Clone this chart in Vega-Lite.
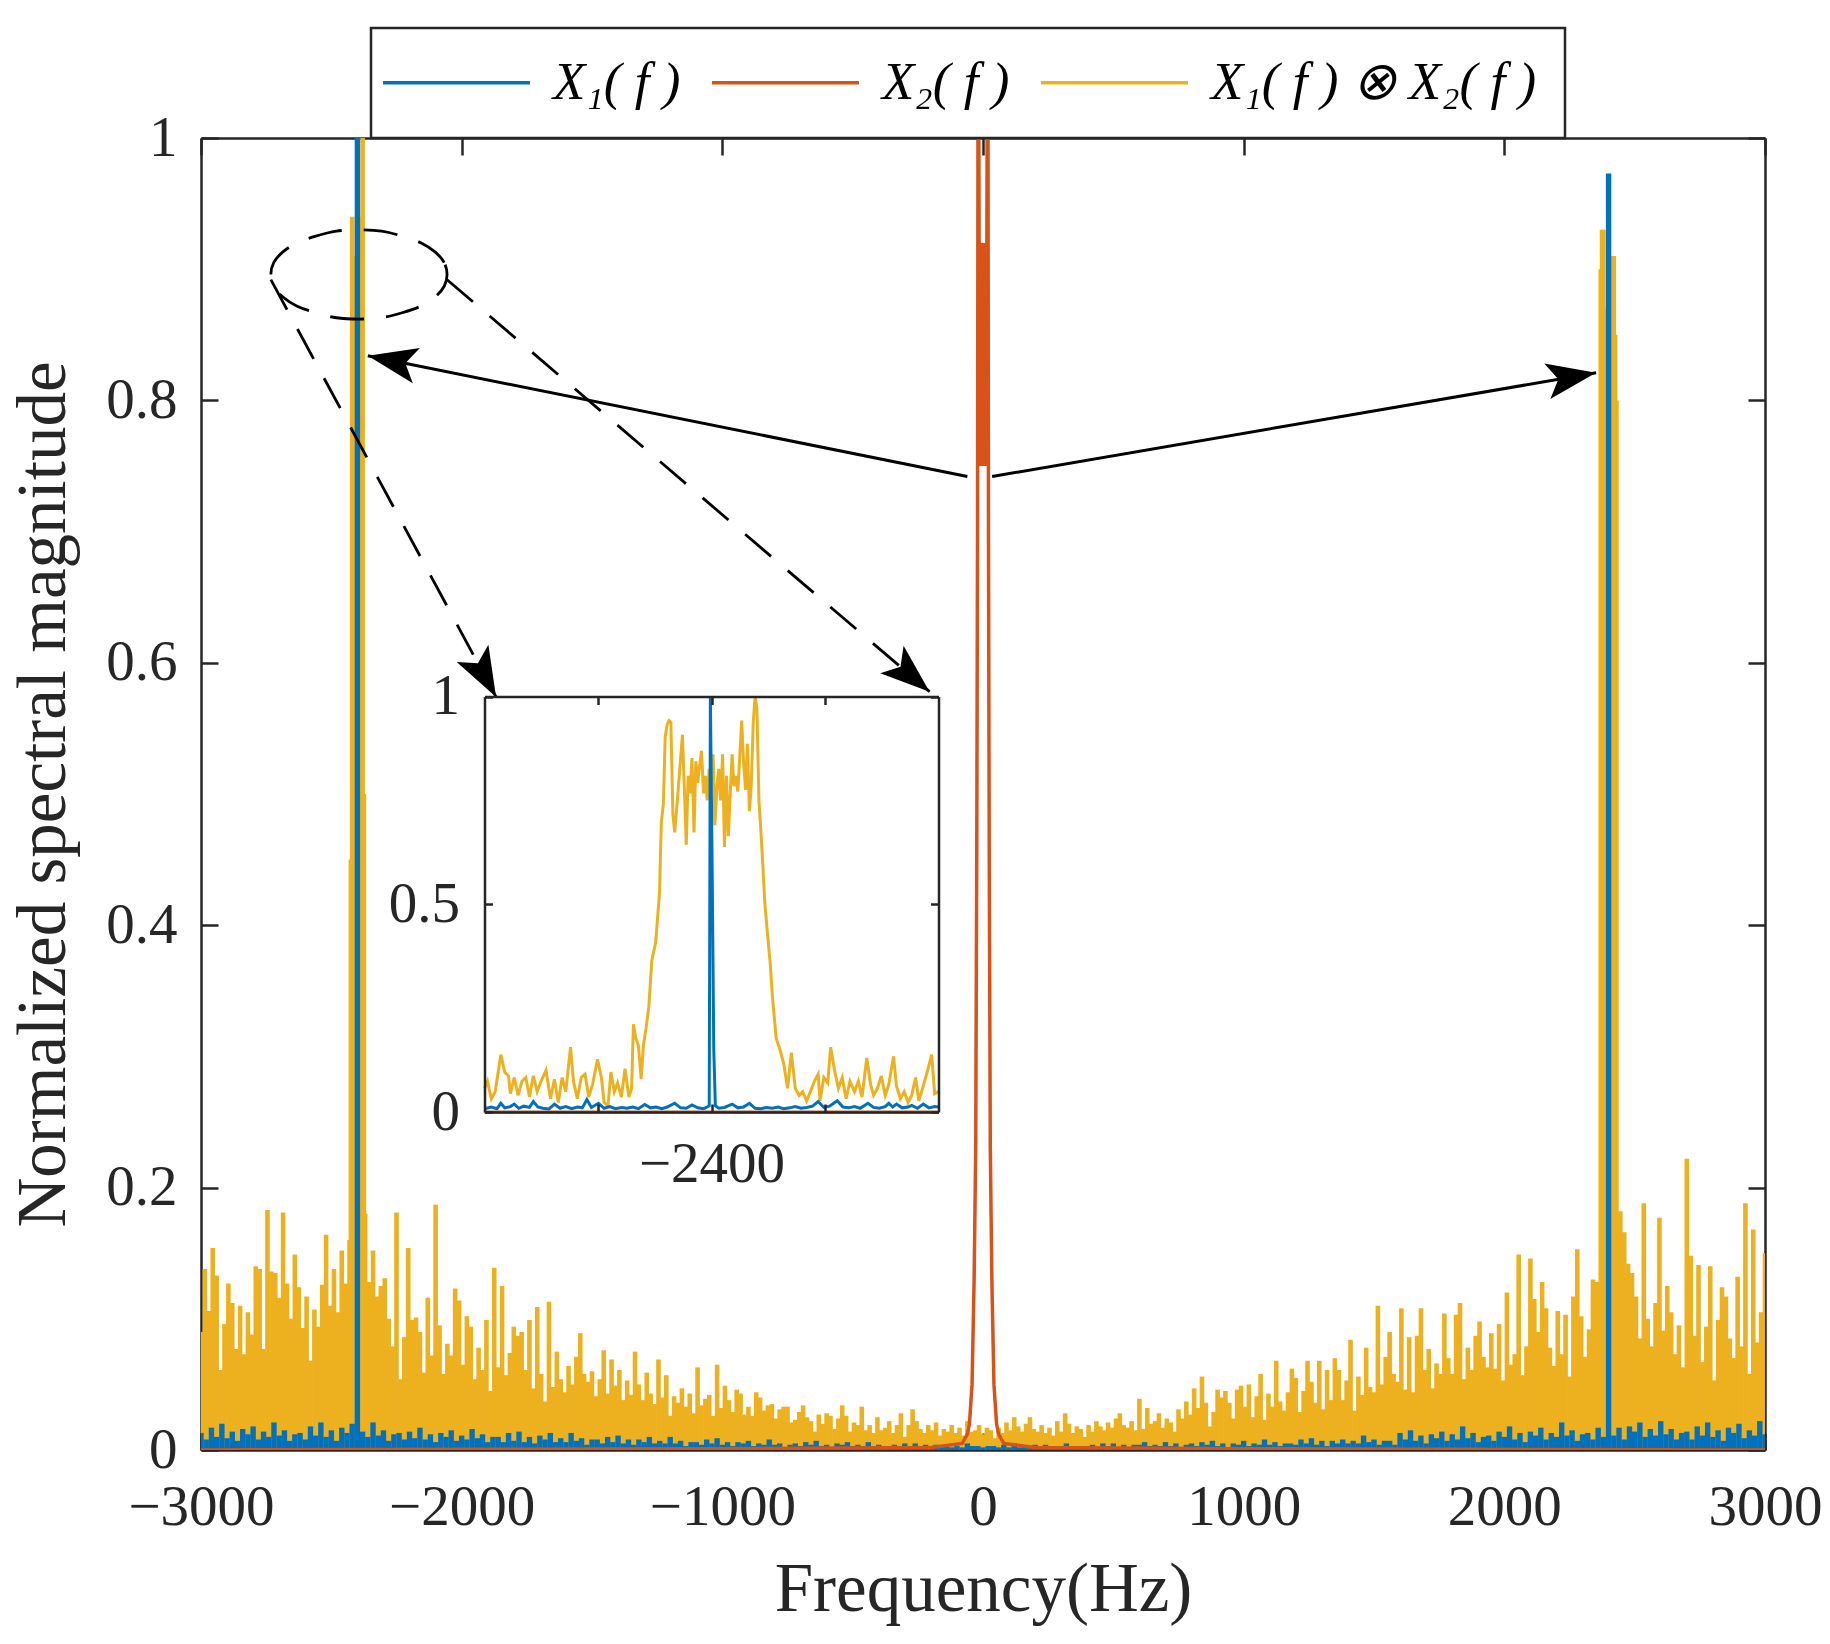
{
  "$schema": "https://vega.github.io/schema/vega-lite/v6.json",
  "description": "Spectra of X1(f), X2(f) and their convolution, with a zoomed inset around -2400 Hz",
  "width": 1564,
  "height": 1312,
  "autosize": {"type": "none"},
  "padding": {"left": 201, "top": 138, "right": 65, "bottom": 194},
  "background": "white",
  "datasets": {
    "x1x2": [
      {"f":-3000,"m":0.090},{"f":-2985,"m":0.138},{"f":-2970,"m":0.106},{"f":-2955,"m":0.154},{"f":-2940,"m":0.133},{"f":-2925,"m":0.061},{"f":-2910,"m":0.096},{"f":-2895,"m":0.127},{"f":-2880,"m":0.112},{"f":-2865,"m":0.077},
      {"f":-2850,"m":0.110},{"f":-2835,"m":0.073},{"f":-2820,"m":0.105},{"f":-2805,"m":0.088},{"f":-2790,"m":0.140},{"f":-2775,"m":0.138},{"f":-2760,"m":0.077},{"f":-2745,"m":0.183},{"f":-2730,"m":0.136},{"f":-2715,"m":0.135},
      {"f":-2700,"m":0.116},{"f":-2685,"m":0.181},{"f":-2670,"m":0.127},{"f":-2655,"m":0.100},{"f":-2640,"m":0.149},{"f":-2625,"m":0.124},{"f":-2610,"m":0.093},{"f":-2595,"m":0.117},{"f":-2580,"m":0.068},{"f":-2565,"m":0.107},
      {"f":-2550,"m":0.094},{"f":-2535,"m":0.126},{"f":-2520,"m":0.164},{"f":-2505,"m":0.110},{"f":-2490,"m":0.138},{"f":-2475,"m":0.105},{"f":-2460,"m":0.152},{"f":-2445,"m":0.127},{"f":-2430,"m":0.160},{"f":-2425,"m":0.450},
      {"f":-2420,"m":0.940},{"f":-2415,"m":0.910},{"f":-2410,"m":0.850},{"f":-2405,"m":0.870},{"f":-2400,"m":0.860},{"f":-2395,"m":0.860},{"f":-2390,"m":0.860},{"f":-2385,"m":0.940},{"f":-2380,"m":1.000},{"f":-2375,"m":0.500},
      {"f":-2370,"m":0.180},{"f":-2355,"m":0.128},{"f":-2340,"m":0.152},{"f":-2325,"m":0.117},{"f":-2310,"m":0.125},{"f":-2295,"m":0.131},{"f":-2280,"m":0.100},{"f":-2265,"m":0.079},
      {"f":-2250,"m":0.181},{"f":-2235,"m":0.054},{"f":-2220,"m":0.086},{"f":-2205,"m":0.154},{"f":-2190,"m":0.099},{"f":-2175,"m":0.101},{"f":-2160,"m":0.090},{"f":-2145,"m":0.059},{"f":-2130,"m":0.116},{"f":-2115,"m":0.072},
      {"f":-2100,"m":0.187},{"f":-2085,"m":0.095},{"f":-2070,"m":0.058},{"f":-2055,"m":0.081},{"f":-2040,"m":0.072},{"f":-2025,"m":0.123},{"f":-2010,"m":0.114},{"f":-1995,"m":0.065},{"f":-1980,"m":0.102},{"f":-1965,"m":0.094},
      {"f":-1950,"m":0.054},{"f":-1935,"m":0.078},{"f":-1920,"m":0.061},{"f":-1905,"m":0.099},{"f":-1890,"m":0.045},{"f":-1875,"m":0.139},{"f":-1860,"m":0.063},{"f":-1845,"m":0.125},{"f":-1830,"m":0.057},{"f":-1815,"m":0.074},
      {"f":-1800,"m":0.094},{"f":-1785,"m":0.087},{"f":-1770,"m":0.090},{"f":-1755,"m":0.061},{"f":-1740,"m":0.099},{"f":-1725,"m":0.047},{"f":-1710,"m":0.109},{"f":-1695,"m":0.058},{"f":-1680,"m":0.037},{"f":-1665,"m":0.113},
      {"f":-1650,"m":0.048},{"f":-1635,"m":0.075},{"f":-1620,"m":0.054},{"f":-1605,"m":0.044},{"f":-1590,"m":0.064},{"f":-1575,"m":0.050},{"f":-1560,"m":0.071},{"f":-1545,"m":0.089},{"f":-1530,"m":0.058},{"f":-1515,"m":0.052},
      {"f":-1500,"m":0.060},{"f":-1485,"m":0.041},{"f":-1470,"m":0.054},{"f":-1455,"m":0.076},{"f":-1440,"m":0.043},{"f":-1425,"m":0.069},{"f":-1410,"m":0.049},{"f":-1395,"m":0.061},{"f":-1380,"m":0.038},{"f":-1365,"m":0.053},
      {"f":-1350,"m":0.042},{"f":-1335,"m":0.075},{"f":-1320,"m":0.050},{"f":-1305,"m":0.038},{"f":-1290,"m":0.059},{"f":-1275,"m":0.043},{"f":-1260,"m":0.035},{"f":-1245,"m":0.069},{"f":-1230,"m":0.040},{"f":-1215,"m":0.057},
      {"f":-1200,"m":0.026},{"f":-1185,"m":0.041},{"f":-1170,"m":0.036},{"f":-1155,"m":0.047},{"f":-1140,"m":0.033},{"f":-1125,"m":0.043},{"f":-1110,"m":0.028},{"f":-1095,"m":0.063},{"f":-1080,"m":0.034},{"f":-1065,"m":0.039},
      {"f":-1050,"m":0.042},{"f":-1035,"m":0.026},{"f":-1020,"m":0.065},{"f":-1005,"m":0.032},{"f":-990,"m":0.049},{"f":-975,"m":0.038},{"f":-960,"m":0.029},{"f":-945,"m":0.046},{"f":-930,"m":0.043},{"f":-915,"m":0.027},
      {"f":-900,"m":0.033},{"f":-885,"m":0.026},{"f":-870,"m":0.044},{"f":-855,"m":0.040},{"f":-840,"m":0.030},{"f":-825,"m":0.034},{"f":-810,"m":0.035},{"f":-795,"m":0.024},{"f":-780,"m":0.031},{"f":-765,"m":0.033},
      {"f":-750,"m":0.033},{"f":-735,"m":0.021},{"f":-720,"m":0.023},{"f":-705,"m":0.029},{"f":-690,"m":0.034},{"f":-675,"m":0.025},{"f":-660,"m":0.022},{"f":-645,"m":0.014},{"f":-630,"m":0.027},{"f":-615,"m":0.020},
      {"f":-600,"m":0.028},{"f":-585,"m":0.026},{"f":-570,"m":0.016},{"f":-555,"m":0.024},{"f":-540,"m":0.034},{"f":-525,"m":0.026},{"f":-510,"m":0.014},{"f":-495,"m":0.021},{"f":-480,"m":0.019},{"f":-465,"m":0.033},
      {"f":-450,"m":0.015},{"f":-435,"m":0.019},{"f":-420,"m":0.013},{"f":-405,"m":0.025},{"f":-390,"m":0.015},{"f":-375,"m":0.017},{"f":-360,"m":0.022},{"f":-345,"m":0.013},{"f":-330,"m":0.019},{"f":-315,"m":0.028},
      {"f":-300,"m":0.010},{"f":-285,"m":0.019},{"f":-270,"m":0.031},{"f":-255,"m":0.022},{"f":-240,"m":0.016},{"f":-225,"m":0.013},{"f":-210,"m":0.019},{"f":-195,"m":0.015},{"f":-180,"m":0.021},{"f":-165,"m":0.011},
      {"f":-150,"m":0.016},{"f":-135,"m":0.014},{"f":-120,"m":0.019},{"f":-105,"m":0.013},{"f":-90,"m":0.017},{"f":-75,"m":0.011},{"f":-60,"m":0.022},{"f":-45,"m":0.014},{"f":-30,"m":0.015},{"f":-15,"m":0.019},
      {"f":0,"m":0.012},{"f":15,"m":0.017},{"f":30,"m":0.015},{"f":45,"m":0.009},{"f":60,"m":0.017},{"f":75,"m":0.013},{"f":90,"m":0.021},{"f":105,"m":0.015},{"f":120,"m":0.025},{"f":135,"m":0.018},
      {"f":150,"m":0.014},{"f":165,"m":0.020},{"f":180,"m":0.025},{"f":195,"m":0.016},{"f":210,"m":0.014},{"f":225,"m":0.019},{"f":240,"m":0.013},{"f":255,"m":0.017},{"f":270,"m":0.011},{"f":285,"m":0.022},
      {"f":300,"m":0.014},{"f":315,"m":0.028},{"f":330,"m":0.020},{"f":345,"m":0.013},{"f":360,"m":0.018},{"f":375,"m":0.016},{"f":390,"m":0.010},{"f":405,"m":0.019},{"f":420,"m":0.014},{"f":435,"m":0.022},
      {"f":450,"m":0.018},{"f":465,"m":0.015},{"f":480,"m":0.021},{"f":495,"m":0.017},{"f":510,"m":0.024},{"f":525,"m":0.028},{"f":540,"m":0.019},{"f":555,"m":0.017},{"f":570,"m":0.022},{"f":585,"m":0.015},
      {"f":600,"m":0.039},{"f":615,"m":0.016},{"f":630,"m":0.032},{"f":645,"m":0.020},{"f":660,"m":0.022},{"f":675,"m":0.028},{"f":690,"m":0.017},{"f":705,"m":0.024},{"f":720,"m":0.021},{"f":735,"m":0.014},
      {"f":750,"m":0.031},{"f":765,"m":0.024},{"f":780,"m":0.037},{"f":795,"m":0.027},{"f":810,"m":0.047},{"f":825,"m":0.032},{"f":840,"m":0.056},{"f":855,"m":0.036},{"f":870,"m":0.018},{"f":885,"m":0.029},
      {"f":900,"m":0.046},{"f":915,"m":0.040},{"f":930,"m":0.045},{"f":945,"m":0.036},{"f":960,"m":0.024},{"f":975,"m":0.046},{"f":990,"m":0.049},{"f":1005,"m":0.033},{"f":1020,"m":0.050},{"f":1035,"m":0.025},
      {"f":1050,"m":0.041},{"f":1065,"m":0.058},{"f":1080,"m":0.023},{"f":1095,"m":0.043},{"f":1110,"m":0.033},{"f":1125,"m":0.068},{"f":1140,"m":0.037},{"f":1155,"m":0.030},{"f":1170,"m":0.044},{"f":1185,"m":0.062},
      {"f":1200,"m":0.055},{"f":1215,"m":0.029},{"f":1230,"m":0.045},{"f":1245,"m":0.068},{"f":1260,"m":0.052},{"f":1275,"m":0.036},{"f":1290,"m":0.068},{"f":1305,"m":0.031},{"f":1320,"m":0.061},{"f":1335,"m":0.038},
      {"f":1350,"m":0.070},{"f":1365,"m":0.061},{"f":1380,"m":0.038},{"f":1395,"m":0.053},{"f":1410,"m":0.084},{"f":1425,"m":0.030},{"f":1440,"m":0.056},{"f":1455,"m":0.042},{"f":1470,"m":0.078},{"f":1485,"m":0.048},
      {"f":1500,"m":0.044},{"f":1515,"m":0.110},{"f":1530,"m":0.050},{"f":1545,"m":0.071},{"f":1560,"m":0.090},{"f":1575,"m":0.058},{"f":1590,"m":0.052},{"f":1605,"m":0.108},{"f":1620,"m":0.046},{"f":1635,"m":0.086},
      {"f":1650,"m":0.044},{"f":1665,"m":0.087},{"f":1680,"m":0.108},{"f":1695,"m":0.061},{"f":1710,"m":0.077},{"f":1725,"m":0.047},{"f":1740,"m":0.066},{"f":1755,"m":0.058},{"f":1770,"m":0.104},{"f":1785,"m":0.070},
      {"f":1800,"m":0.058},{"f":1815,"m":0.103},{"f":1830,"m":0.112},{"f":1845,"m":0.054},{"f":1860,"m":0.078},{"f":1875,"m":0.061},{"f":1890,"m":0.087},{"f":1905,"m":0.098},{"f":1920,"m":0.071},{"f":1935,"m":0.063},
      {"f":1950,"m":0.089},{"f":1965,"m":0.062},{"f":1980,"m":0.096},{"f":1995,"m":0.053},{"f":2010,"m":0.120},{"f":2025,"m":0.065},{"f":2040,"m":0.073},{"f":2055,"m":0.149},{"f":2070,"m":0.057},{"f":2085,"m":0.079},
      {"f":2100,"m":0.146},{"f":2115,"m":0.115},{"f":2130,"m":0.090},{"f":2145,"m":0.128},{"f":2160,"m":0.108},{"f":2175,"m":0.078},{"f":2190,"m":0.064},{"f":2205,"m":0.106},{"f":2220,"m":0.073},{"f":2235,"m":0.103},
      {"f":2250,"m":0.056},{"f":2265,"m":0.117},{"f":2280,"m":0.153},{"f":2295,"m":0.102},{"f":2310,"m":0.071},{"f":2325,"m":0.092},{"f":2340,"m":0.130},{"f":2355,"m":0.128},{"f":2370,"m":0.900},{"f":2375,"m":0.930},
      {"f":2380,"m":0.930},{"f":2385,"m":0.870},{"f":2390,"m":0.850},{"f":2395,"m":0.820},{"f":2400,"m":0.830},{"f":2405,"m":0.890},{"f":2410,"m":0.900},{"f":2415,"m":0.910},{"f":2420,"m":0.910},{"f":2425,"m":0.850},
      {"f":2430,"m":0.800},{"f":2445,"m":0.182},{"f":2460,"m":0.166},{"f":2475,"m":0.142},{"f":2490,"m":0.135},{"f":2505,"m":0.117},{"f":2520,"m":0.085},{"f":2535,"m":0.188},
      {"f":2550,"m":0.100},{"f":2565,"m":0.079},{"f":2580,"m":0.112},{"f":2595,"m":0.177},{"f":2610,"m":0.091},{"f":2625,"m":0.125},{"f":2640,"m":0.105},{"f":2655,"m":0.073},{"f":2670,"m":0.095},{"f":2685,"m":0.063},
      {"f":2700,"m":0.222},{"f":2715,"m":0.148},{"f":2730,"m":0.087},{"f":2745,"m":0.141},{"f":2760,"m":0.067},{"f":2775,"m":0.094},{"f":2790,"m":0.140},{"f":2805,"m":0.053},{"f":2820,"m":0.099},{"f":2835,"m":0.124},
      {"f":2850,"m":0.117},{"f":2865,"m":0.085},{"f":2880,"m":0.070},{"f":2895,"m":0.132},{"f":2910,"m":0.079},{"f":2925,"m":0.188},{"f":2940,"m":0.058},{"f":2955,"m":0.168},{"f":2970,"m":0.082},{"f":2985,"m":0.105},
      {"f":3000,"m":0.150}
    ],
    "x1": [
      {"f":-3000,"m":0.013},{"f":-2980,"m":0.008},{"f":-2960,"m":0.017},{"f":-2940,"m":0.010},{"f":-2920,"m":0.020},{"f":-2900,"m":0.009},{"f":-2880,"m":0.014},{"f":-2860,"m":0.007},{"f":-2840,"m":0.016},{"f":-2820,"m":0.012},
      {"f":-2800,"m":0.018},{"f":-2780,"m":0.008},{"f":-2760,"m":0.014},{"f":-2740,"m":0.010},{"f":-2720,"m":0.021},{"f":-2700,"m":0.011},{"f":-2680,"m":0.015},{"f":-2660,"m":0.007},{"f":-2640,"m":0.012},{"f":-2620,"m":0.013},
      {"f":-2600,"m":0.008},{"f":-2580,"m":0.018},{"f":-2560,"m":0.011},{"f":-2540,"m":0.021},{"f":-2520,"m":0.010},{"f":-2500,"m":0.015},{"f":-2480,"m":0.007},{"f":-2460,"m":0.017},{"f":-2440,"m":0.013},{"f":-2420,"m":0.020},
      {"f":-2400,"m":1.000},{"f":-2380,"m":0.014},{"f":-2360,"m":0.010},{"f":-2340,"m":0.021},{"f":-2320,"m":0.011},{"f":-2300,"m":0.015},{"f":-2280,"m":0.007},{"f":-2260,"m":0.012},{"f":-2240,"m":0.013},{"f":-2220,"m":0.008},
      {"f":-2200,"m":0.014},{"f":-2180,"m":0.009},{"f":-2160,"m":0.017},{"f":-2140,"m":0.008},{"f":-2120,"m":0.012},{"f":-2100,"m":0.006},{"f":-2080,"m":0.013},{"f":-2060,"m":0.010},{"f":-2040,"m":0.015},{"f":-2020,"m":0.007},
      {"f":-2000,"m":0.011},{"f":-1980,"m":0.008},{"f":-1960,"m":0.016},{"f":-1940,"m":0.009},{"f":-1920,"m":0.012},{"f":-1900,"m":0.006},{"f":-1880,"m":0.010},{"f":-1860,"m":0.010},{"f":-1840,"m":0.006},{"f":-1820,"m":0.013},
      {"f":-1800,"m":0.007},{"f":-1780,"m":0.014},{"f":-1760,"m":0.006},{"f":-1740,"m":0.010},{"f":-1720,"m":0.005},{"f":-1700,"m":0.011},{"f":-1680,"m":0.008},{"f":-1660,"m":0.013},{"f":-1640,"m":0.006},{"f":-1620,"m":0.009},
      {"f":-1600,"m":0.006},{"f":-1580,"m":0.013},{"f":-1560,"m":0.007},{"f":-1540,"m":0.009},{"f":-1520,"m":0.004},{"f":-1500,"m":0.008},{"f":-1480,"m":0.008},{"f":-1460,"m":0.005},{"f":-1440,"m":0.010},{"f":-1420,"m":0.006},
      {"f":-1400,"m":0.011},{"f":-1380,"m":0.005},{"f":-1360,"m":0.008},{"f":-1340,"m":0.004},{"f":-1320,"m":0.008},{"f":-1300,"m":0.006},{"f":-1280,"m":0.010},{"f":-1260,"m":0.005},{"f":-1240,"m":0.007},{"f":-1220,"m":0.005},
      {"f":-1200,"m":0.010},{"f":-1180,"m":0.005},{"f":-1160,"m":0.007},{"f":-1140,"m":0.003},{"f":-1120,"m":0.006},{"f":-1100,"m":0.006},{"f":-1080,"m":0.004},{"f":-1060,"m":0.008},{"f":-1040,"m":0.005},{"f":-1020,"m":0.009},
      {"f":-1000,"m":0.004},{"f":-980,"m":0.006},{"f":-960,"m":0.003},{"f":-940,"m":0.006},{"f":-920,"m":0.005},{"f":-900,"m":0.007},{"f":-880,"m":0.003},{"f":-860,"m":0.005},{"f":-840,"m":0.004},{"f":-820,"m":0.008},
      {"f":-800,"m":0.004},{"f":-780,"m":0.005},{"f":-760,"m":0.002},{"f":-740,"m":0.004},{"f":-720,"m":0.005},{"f":-700,"m":0.003},{"f":-680,"m":0.006},{"f":-660,"m":0.004},{"f":-640,"m":0.007},{"f":-620,"m":0.003},
      {"f":-600,"m":0.004},{"f":-580,"m":0.002},{"f":-560,"m":0.005},{"f":-540,"m":0.004},{"f":-520,"m":0.006},{"f":-500,"m":0.003},{"f":-480,"m":0.004},{"f":-460,"m":0.003},{"f":-440,"m":0.006},{"f":-420,"m":0.003},
      {"f":-400,"m":0.004},{"f":-380,"m":0.002},{"f":-360,"m":0.003},{"f":-340,"m":0.004},{"f":-320,"m":0.002},{"f":-300,"m":0.005},{"f":-280,"m":0.003},{"f":-260,"m":0.005},{"f":-240,"m":0.002},{"f":-220,"m":0.004},
      {"f":-200,"m":0.002},{"f":-180,"m":0.004},{"f":-160,"m":0.003},{"f":-140,"m":0.004},{"f":-120,"m":0.002},{"f":-100,"m":0.003},{"f":-80,"m":0.002},{"f":-60,"m":0.005},{"f":-40,"m":0.003},{"f":-20,"m":0.003},
      {"f":0,"m":0.002},{"f":20,"m":0.003},{"f":40,"m":0.003},{"f":60,"m":0.002},{"f":80,"m":0.004},{"f":100,"m":0.002},{"f":120,"m":0.005},{"f":140,"m":0.002},{"f":160,"m":0.003},{"f":180,"m":0.002},
      {"f":200,"m":0.004},{"f":220,"m":0.003},{"f":240,"m":0.004},{"f":260,"m":0.002},{"f":280,"m":0.003},{"f":300,"m":0.002},{"f":320,"m":0.005},{"f":340,"m":0.003},{"f":360,"m":0.003},{"f":380,"m":0.002},
      {"f":400,"m":0.003},{"f":420,"m":0.004},{"f":440,"m":0.002},{"f":460,"m":0.005},{"f":480,"m":0.003},{"f":500,"m":0.005},{"f":520,"m":0.002},{"f":540,"m":0.004},{"f":560,"m":0.002},{"f":580,"m":0.004},
      {"f":600,"m":0.004},{"f":620,"m":0.006},{"f":640,"m":0.003},{"f":660,"m":0.004},{"f":680,"m":0.003},{"f":700,"m":0.006},{"f":720,"m":0.003},{"f":740,"m":0.005},{"f":760,"m":0.002},{"f":780,"m":0.004},
      {"f":800,"m":0.005},{"f":820,"m":0.003},{"f":840,"m":0.006},{"f":860,"m":0.004},{"f":880,"m":0.007},{"f":900,"m":0.003},{"f":920,"m":0.005},{"f":940,"m":0.002},{"f":960,"m":0.005},{"f":980,"m":0.004},
      {"f":1000,"m":0.007},{"f":1020,"m":0.003},{"f":1040,"m":0.005},{"f":1060,"m":0.004},{"f":1080,"m":0.008},{"f":1100,"m":0.004},{"f":1120,"m":0.006},{"f":1140,"m":0.003},{"f":1160,"m":0.005},{"f":1180,"m":0.005},
      {"f":1200,"m":0.004},{"f":1220,"m":0.008},{"f":1240,"m":0.005},{"f":1260,"m":0.009},{"f":1280,"m":0.004},{"f":1300,"m":0.007},{"f":1320,"m":0.003},{"f":1340,"m":0.007},{"f":1360,"m":0.005},{"f":1380,"m":0.008},
      {"f":1400,"m":0.005},{"f":1420,"m":0.007},{"f":1440,"m":0.005},{"f":1460,"m":0.011},{"f":1480,"m":0.006},{"f":1500,"m":0.008},{"f":1520,"m":0.004},{"f":1540,"m":0.007},{"f":1560,"m":0.007},{"f":1580,"m":0.004},
      {"f":1600,"m":0.013},{"f":1620,"m":0.008},{"f":1640,"m":0.015},{"f":1660,"m":0.007},{"f":1680,"m":0.011},{"f":1700,"m":0.005},{"f":1720,"m":0.012},{"f":1740,"m":0.009},{"f":1760,"m":0.014},{"f":1780,"m":0.007},
      {"f":1800,"m":0.012},{"f":1820,"m":0.008},{"f":1840,"m":0.018},{"f":1860,"m":0.009},{"f":1880,"m":0.013},{"f":1900,"m":0.006},{"f":1920,"m":0.010},{"f":1940,"m":0.011},{"f":1960,"m":0.007},{"f":1980,"m":0.014},
      {"f":2000,"m":0.010},{"f":2020,"m":0.018},{"f":2040,"m":0.008},{"f":2060,"m":0.013},{"f":2080,"m":0.006},{"f":2100,"m":0.014},{"f":2120,"m":0.011},{"f":2140,"m":0.017},{"f":2160,"m":0.008},{"f":2180,"m":0.013},
      {"f":2200,"m":0.010},{"f":2220,"m":0.021},{"f":2240,"m":0.011},{"f":2260,"m":0.015},{"f":2280,"m":0.007},{"f":2300,"m":0.012},{"f":2320,"m":0.013},{"f":2340,"m":0.008},{"f":2360,"m":0.017},{"f":2380,"m":0.010},
      {"f":2400,"m":0.973},{"f":2420,"m":0.011},{"f":2440,"m":0.017},{"f":2460,"m":0.008},{"f":2480,"m":0.018},{"f":2500,"m":0.014},{"f":2520,"m":0.021},{"f":2540,"m":0.010},{"f":2560,"m":0.016},{"f":2580,"m":0.011},
      {"f":2600,"m":0.022},{"f":2620,"m":0.012},{"f":2640,"m":0.016},{"f":2660,"m":0.008},{"f":2680,"m":0.013},{"f":2700,"m":0.014},{"f":2720,"m":0.008},{"f":2740,"m":0.018},{"f":2760,"m":0.011},{"f":2780,"m":0.021},
      {"f":2800,"m":0.010},{"f":2820,"m":0.015},{"f":2840,"m":0.007},{"f":2860,"m":0.017},{"f":2880,"m":0.013},{"f":2900,"m":0.020},{"f":2920,"m":0.009},{"f":2940,"m":0.015},{"f":2960,"m":0.011},{"f":2980,"m":0.022},
      {"f":3000,"m":0.012}
    ],
    "x2": [
      {"f":-3000,"m":0},{"f":-1000,"m":0.001},{"f":-200,"m":0.002},{"f":-80,"m":0.005},{"f":-60,"m":0.012},{"f":-52,"m":0.02},{"f":-42,"m":0.05},{"f":-34,"m":0.13},{"f":-28,"m":0.23},{"f":-24,"m":0.45},
      {"f":-21,"m":0.7},{"f":-19,"m":1.05},{"f":-17,"m":1.1},{"f":-15,"m":0.92},{"f":-13.5,"m":0.76},{"f":-12,"m":0.91},{"f":-10.5,"m":0.75},{"f":-9,"m":0.92},{"f":-7.5,"m":0.76},{"f":-6,"m":0.9},
      {"f":-4.5,"m":0.75},{"f":-3,"m":0.91},{"f":-1.5,"m":0.76},{"f":0,"m":0.92},{"f":1.5,"m":0.75},{"f":3,"m":0.9},{"f":4.5,"m":0.76},{"f":6,"m":0.91},{"f":7.5,"m":0.75},{"f":9,"m":0.92},
      {"f":10.5,"m":0.76},{"f":12,"m":0.9},{"f":13.5,"m":0.78},{"f":15,"m":0.93},{"f":17,"m":1.1},{"f":19,"m":1.05},{"f":21,"m":0.7},{"f":24,"m":0.45},{"f":28,"m":0.23},{"f":34,"m":0.13},
      {"f":42,"m":0.05},{"f":52,"m":0.02},{"f":60,"m":0.012},{"f":80,"m":0.005},{"f":200,"m":0.002},{"f":1000,"m":0.001},{"f":3000,"m":0}
    ],
    "insetY": [
      {"f":-2500.0,"m":0.057},{"f":-2498.7,"m":0.074},{"f":-2497.0,"m":0.032},{"f":-2495.3,"m":0.049},{"f":-2492.8,"m":0.138},{"f":-2491.1,"m":0.096},{"f":-2489.4,"m":0.087},{"f":-2488.6,"m":0.044},{"f":-2486.9,"m":0.083},{"f":-2485.2,"m":0.040},
      {"f":-2483.5,"m":0.074},{"f":-2481.8,"m":0.083},{"f":-2480.2,"m":0.036},{"f":-2478.5,"m":0.087},{"f":-2476.8,"m":0.049},{"f":-2475.1,"m":0.074},{"f":-2472.9,"m":0.100},{"f":-2470.9,"m":0.032},{"f":-2469.2,"m":0.079},{"f":-2467.5,"m":0.023},
      {"f":-2465.8,"m":0.083},{"f":-2464.2,"m":0.049},{"f":-2462.1,"m":0.156},{"f":-2460.8,"m":0.074},{"f":-2459.1,"m":0.032},{"f":-2457.4,"m":0.083},{"f":-2455.7,"m":0.091},{"f":-2454.1,"m":0.036},{"f":-2452.4,"m":0.066},{"f":-2450.2,"m":0.127},
      {"f":-2448.5,"m":0.083},{"f":-2447.3,"m":0.023},{"f":-2445.6,"m":0.015},{"f":-2444.3,"m":0.096},{"f":-2442.8,"m":0.049},{"f":-2441.4,"m":0.070},{"f":-2439.7,"m":0.036},{"f":-2438.1,"m":0.104},{"f":-2436.4,"m":0.036},{"f":-2435.2,"m":0.057},
      {"f":-2434.4,"m":0.211},{"f":-2433.3,"m":0.177},{"f":-2432.2,"m":0.160},{"f":-2431.0,"m":0.079},{"f":-2430.0,"m":0.160},{"f":-2428.8,"m":0.203},{"f":-2427.6,"m":0.254},{"f":-2426.3,"m":0.365},{"f":-2424.6,"m":0.408},{"f":-2422.9,"m":0.527},
      {"f":-2422.1,"m":0.698},{"f":-2421.2,"m":0.741},{"f":-2420.4,"m":0.903},{"f":-2419.5,"m":0.933},{"f":-2418.7,"m":0.942},{"f":-2417.9,"m":0.938},{"f":-2417.0,"m":0.715},{"f":-2416.2,"m":0.673},{"f":-2414.8,"m":0.767},{"f":-2413.6,"m":0.852},
      {"f":-2412.8,"m":0.908},{"f":-2412.0,"m":0.784},{"f":-2411.1,"m":0.643},{"f":-2410.3,"m":0.809},{"f":-2409.4,"m":0.767},{"f":-2408.6,"m":0.852},{"f":-2407.7,"m":0.673},{"f":-2406.9,"m":0.844},{"f":-2406.1,"m":0.792},{"f":-2405.2,"m":0.835},
      {"f":-2404.4,"m":0.869},{"f":-2403.5,"m":0.767},{"f":-2402.7,"m":0.809},{"f":-2401.9,"m":0.750},{"f":-2401.0,"m":0.826},{"f":-2400.0,"m":0.801},{"f":-2399.3,"m":0.861},{"f":-2398.5,"m":0.690},{"f":-2397.6,"m":0.784},{"f":-2396.8,"m":0.826},
      {"f":-2396.0,"m":0.750},{"f":-2395.1,"m":0.861},{"f":-2394.3,"m":0.638},{"f":-2393.4,"m":0.809},{"f":-2392.6,"m":0.664},{"f":-2391.7,"m":0.771},{"f":-2390.9,"m":0.861},{"f":-2390.1,"m":0.784},{"f":-2389.2,"m":0.809},{"f":-2388.4,"m":0.771},
      {"f":-2387.5,"m":0.861},{"f":-2386.7,"m":0.942},{"f":-2385.9,"m":0.844},{"f":-2385.0,"m":0.775},{"f":-2384.2,"m":0.886},{"f":-2383.3,"m":0.724},{"f":-2382.5,"m":0.784},{"f":-2381.6,"m":0.938},{"f":-2380.8,"m":1.000},{"f":-2380.0,"m":0.972},
      {"f":-2379.1,"m":0.750},{"f":-2378.3,"m":0.681},{"f":-2377.4,"m":0.596},{"f":-2376.6,"m":0.510},{"f":-2375.4,"m":0.433},{"f":-2374.1,"m":0.356},{"f":-2373.2,"m":0.280},{"f":-2371.5,"m":0.177},{"f":-2369.9,"m":0.151},{"f":-2368.2,"m":0.117},
      {"f":-2366.5,"m":0.057},{"f":-2364.8,"m":0.143},{"f":-2363.1,"m":0.057},{"f":-2361.4,"m":0.040},{"f":-2359.8,"m":0.049},{"f":-2358.1,"m":0.027},{"f":-2356.4,"m":0.049},{"f":-2354.7,"m":0.074},{"f":-2353.0,"m":0.091},{"f":-2352.2,"m":0.027},
      {"f":-2350.5,"m":0.083},{"f":-2348.8,"m":0.070},{"f":-2347.5,"m":0.156},{"f":-2345.8,"m":0.100},{"f":-2344.1,"m":0.057},{"f":-2342.4,"m":0.083},{"f":-2340.7,"m":0.032},{"f":-2339.0,"m":0.074},{"f":-2337.0,"m":0.049},{"f":-2335.3,"m":0.074},
      {"f":-2333.7,"m":0.036},{"f":-2331.6,"m":0.130},{"f":-2329.9,"m":0.066},{"f":-2328.6,"m":0.040},{"f":-2326.9,"m":0.057},{"f":-2325.2,"m":0.087},{"f":-2323.5,"m":0.040},{"f":-2321.9,"m":0.066},{"f":-2319.8,"m":0.134},{"f":-2318.5,"m":0.062},
      {"f":-2316.8,"m":0.032},{"f":-2315.1,"m":0.049},{"f":-2313.4,"m":0.023},{"f":-2311.8,"m":0.040},{"f":-2310.1,"m":0.083},{"f":-2308.7,"m":0.027},{"f":-2307.0,"m":0.057},{"f":-2305.0,"m":0.096},{"f":-2303.0,"m":0.138},{"f":-2301.7,"m":0.044},
      {"f":-2300.0,"m":0.049}
    ],
    "insetB": [
      {"f":-2500.0,"m":0.008},{"f":-2497.0,"m":0.012},{"f":-2494.5,"m":0.008},{"f":-2492.8,"m":0.021},{"f":-2491.1,"m":0.010},{"f":-2488.6,"m":0.013},{"f":-2486.9,"m":0.019},{"f":-2484.9,"m":0.009},{"f":-2482.7,"m":0.014},{"f":-2480.2,"m":0.011},
      {"f":-2478.5,"m":0.025},{"f":-2476.5,"m":0.012},{"f":-2474.3,"m":0.009},{"f":-2471.7,"m":0.007},{"f":-2469.2,"m":0.019},{"f":-2466.7,"m":0.009},{"f":-2464.2,"m":0.013},{"f":-2461.6,"m":0.008},{"f":-2459.1,"m":0.012},{"f":-2456.9,"m":0.010},
      {"f":-2454.9,"m":0.030},{"f":-2452.9,"m":0.011},{"f":-2449.8,"m":0.021},{"f":-2447.3,"m":0.009},{"f":-2444.8,"m":0.013},{"f":-2442.3,"m":0.008},{"f":-2439.7,"m":0.011},{"f":-2437.2,"m":0.009},{"f":-2434.7,"m":0.012},{"f":-2432.2,"m":0.008},
      {"f":-2429.4,"m":0.018},{"f":-2426.9,"m":0.010},{"f":-2424.4,"m":0.012},{"f":-2421.9,"m":0.008},{"f":-2419.5,"m":0.012},{"f":-2416.2,"m":0.021},{"f":-2413.6,"m":0.010},{"f":-2411.1,"m":0.009},{"f":-2408.6,"m":0.017},{"f":-2406.1,"m":0.010},
      {"f":-2403.5,"m":0.008},{"f":-2401.9,"m":0.012},{"f":-2401.0,"m":0.015},{"f":-2400.5,"m":1.000},{"f":-2399.7,"m":0.580},{"f":-2399.0,"m":0.150},{"f":-2398.3,"m":0.015},{"f":-2396.8,"m":0.009},{"f":-2394.3,"m":0.011},{"f":-2390.9,"m":0.019},
      {"f":-2388.4,"m":0.010},{"f":-2385.9,"m":0.012},{"f":-2383.3,"m":0.021},{"f":-2380.8,"m":0.009},{"f":-2378.3,"m":0.008},{"f":-2375.8,"m":0.011},{"f":-2373.2,"m":0.009},{"f":-2370.7,"m":0.012},{"f":-2368.2,"m":0.008},{"f":-2365.6,"m":0.010},
      {"f":-2363.1,"m":0.013},{"f":-2360.6,"m":0.009},{"f":-2358.1,"m":0.011},{"f":-2355.5,"m":0.014},{"f":-2353.0,"m":0.025},{"f":-2350.5,"m":0.011},{"f":-2348.0,"m":0.014},{"f":-2344.6,"m":0.027},{"f":-2342.1,"m":0.012},{"f":-2339.5,"m":0.010},
      {"f":-2337.0,"m":0.013},{"f":-2334.5,"m":0.009},{"f":-2331.1,"m":0.021},{"f":-2328.6,"m":0.011},{"f":-2326.1,"m":0.009},{"f":-2323.5,"m":0.013},{"f":-2321.9,"m":0.021},{"f":-2320.2,"m":0.012},{"f":-2318.5,"m":0.019},{"f":-2316.0,"m":0.010},
      {"f":-2313.4,"m":0.012},{"f":-2311.8,"m":0.016},{"f":-2309.2,"m":0.009},{"f":-2306.7,"m":0.019},{"f":-2304.2,"m":0.010},{"f":-2301.7,"m":0.013},{"f":-2300.0,"m":0.012}
    ],
    "ellipse": [
      {"i":0,"f":-2056,"m":0.896},{"i":1,"f":-2067,"m":0.905},{"i":2,"f":-2101,"m":0.913},{"i":3,"f":-2155,"m":0.920},{"i":4,"f":-2225,"m":0.925},{"i":5,"f":-2307,"m":0.929},
      {"i":6,"f":-2394,"m":0.930},{"i":7,"f":-2481,"m":0.929},{"i":8,"f":-2563,"m":0.925},{"i":9,"f":-2633,"m":0.920},{"i":10,"f":-2687,"m":0.913},{"i":11,"f":-2721,"m":0.905},
      {"i":12,"f":-2732,"m":0.896},{"i":13,"f":-2721,"m":0.887},{"i":14,"f":-2687,"m":0.879},{"i":15,"f":-2633,"m":0.872},{"i":16,"f":-2563,"m":0.867},{"i":17,"f":-2481,"m":0.863},
      {"i":18,"f":-2394,"m":0.862},{"i":19,"f":-2307,"m":0.863},{"i":20,"f":-2225,"m":0.867},{"i":21,"f":-2155,"m":0.872},{"i":22,"f":-2101,"m":0.879},{"i":23,"f":-2067,"m":0.887}
    ],
    "dashedArrows": [
      {"f1":-2732,"m1":0.892,"f2":-1868,"m2":0.574},
      {"f1":-2056,"m1":0.892,"f2":-205,"m2":0.578}
    ],
    "solidArrows": [
      {"f1":-60,"m1":0.742,"f2":-2360,"m2":0.834},
      {"f1":35,"m1":0.742,"f2":2352,"m2":0.821}
    ]
  },
  "layer": [
    {
      "layer": [
        {
          "data": {"name": "x1x2"},
          "mark": {"type": "rule", "strokeWidth": 4.6, "clip": true},
          "encoding": {
            "x": {
              "field": "f", "type": "quantitative",
              "scale": {"domain": [-3000, 3000], "nice": false, "zero": false},
              "axis": {"orient": "bottom", "values": [-3000, -2000, -1000, 0, 1000, 2000, 3000], "format": "d", "title": "Frequency(Hz)", "tickSize": -17, "labelPadding": 46, "titleBaseline": "alphabetic", "titleY": 160}
            },
            "y": {
              "field": "m", "type": "quantitative",
              "scale": {"domain": [0, 1], "nice": false, "zero": false},
              "axis": {"orient": "left", "values": [0, 0.2, 0.4, 0.6, 0.8, 1], "format": "~g", "title": "Normalized spectral magnitude", "tickSize": -17, "labelPadding": 41, "titleBaseline": "alphabetic", "titleX": -137}
            },
            "y2": {"datum": 0},
            "color": {
              "datum": "X₁( f ) ⊗ X₂( f )", "type": "nominal",
              "scale": {"domain": ["X₁( f )", "X₂( f )", "X₁( f ) ⊗ X₂( f )"], "range": ["#0072BD", "#D95319", "#EDB120"]},
              "legend": {"orient": "none", "legendX": 170, "legendY": -110, "direction": "horizontal", "columns": 3, "title": null}
            }
          }
        },
        {
          "data": {"name": "x1"},
          "mark": {"type": "rule", "strokeWidth": 5.4, "clip": true},
          "encoding": {
            "x": {"field": "f", "type": "quantitative", "axis": null},
            "y": {"field": "m", "type": "quantitative", "axis": null},
            "y2": {"datum": 0},
            "color": {"datum": "X₁( f )", "type": "nominal"}
          }
        },
        {
          "data": {"name": "x2"},
          "mark": {"type": "line", "strokeWidth": 3.5, "clip": true},
          "encoding": {
            "x": {"field": "f", "type": "quantitative", "axis": {"orient": "top", "values": [-3000, -2000, -1000, 0, 1000, 2000, 3000], "labels": false, "title": null, "tickSize": -17}},
            "y": {"field": "m", "type": "quantitative", "axis": {"orient": "right", "values": [0, 0.2, 0.4, 0.6, 0.8, 1], "labels": false, "title": null, "tickSize": -17}},
            "color": {"datum": "X₂( f )", "type": "nominal"}
          }
        },
        {
          "data": {"name": "ellipse"},
          "mark": {"type": "line", "color": "#000000", "strokeWidth": 2.8, "strokeDash": [34, 22], "interpolate": "cardinal-closed"},
          "encoding": {
            "x": {"field": "f", "type": "quantitative", "axis": null},
            "y": {"field": "m", "type": "quantitative", "axis": null},
            "order": {"field": "i", "type": "quantitative"}
          }
        },
        {
          "data": {"name": "dashedArrows"},
          "mark": {"type": "rule", "color": "#000000", "strokeWidth": 2.8, "strokeDash": [34, 22]},
          "encoding": {
            "x": {"field": "f1", "type": "quantitative", "axis": null},
            "y": {"field": "m1", "type": "quantitative", "axis": null},
            "x2": {"field": "f2"},
            "y2": {"field": "m2"}
          }
        },
        {
          "data": {"name": "solidArrows"},
          "mark": {"type": "rule", "color": "#000000", "strokeWidth": 3},
          "encoding": {
            "x": {"field": "f1", "type": "quantitative", "axis": null},
            "y": {"field": "m1", "type": "quantitative", "axis": null},
            "x2": {"field": "f2"},
            "y2": {"field": "m2"}
          }
        },
        {
          "data": {"values": [{"f": -1868, "m": 0.574}]},
          "mark": {"type": "point", "shape": "M0,0L-0.4,1.1L0,0.85L0.4,1.1Z", "size": 8100, "angle": 151.6, "filled": true, "color": "#000000", "opacity": 1, "strokeWidth": 0},
          "encoding": {"x": {"field": "f", "type": "quantitative", "axis": null}, "y": {"field": "m", "type": "quantitative", "axis": null}}
        },
        {
          "data": {"values": [{"f": -205, "m": 0.578}]},
          "mark": {"type": "point", "shape": "M0,0L-0.4,1.1L0,0.85L0.4,1.1Z", "size": 8100, "angle": 130.5, "filled": true, "color": "#000000", "opacity": 1, "strokeWidth": 0},
          "encoding": {"x": {"field": "f", "type": "quantitative", "axis": null}, "y": {"field": "m", "type": "quantitative", "axis": null}}
        },
        {
          "data": {"values": [{"f": -2360, "m": 0.834}]},
          "mark": {"type": "point", "shape": "M0,0L-0.4,1.1L0,0.85L0.4,1.1Z", "size": 8100, "angle": 281.4, "filled": true, "color": "#000000", "opacity": 1, "strokeWidth": 0},
          "encoding": {"x": {"field": "f", "type": "quantitative", "axis": null}, "y": {"field": "m", "type": "quantitative", "axis": null}}
        },
        {
          "data": {"values": [{"f": 2352, "m": 0.821}]},
          "mark": {"type": "point", "shape": "M0,0L-0.4,1.1L0,0.85L0.4,1.1Z", "size": 8100, "angle": 80.3, "filled": true, "color": "#000000", "opacity": 1, "strokeWidth": 0},
          "encoding": {"x": {"field": "f", "type": "quantitative", "axis": null}, "y": {"field": "m", "type": "quantitative", "axis": null}}
        }
      ],
      "resolve": {"axis": {"x": "independent", "y": "independent"}}
    },
    {
      "layer": [
        {
          "data": {"name": "insetY"},
          "mark": {"type": "line", "color": "#EDB120", "strokeWidth": 3},
          "encoding": {
            "x": {
              "field": "f", "type": "quantitative",
              "scale": {"domain": [-2500, -2300], "range": [283.5, 737.5], "nice": false, "zero": false},
              "axis": {"orient": "bottom", "offset": -338, "values": [-2450, -2400, -2350], "format": "d", "labelExpr": "datum.value == -2400 ? datum.label : ''", "title": null, "tickSize": -8, "labelPadding": 32, "zindex": 1}
            },
            "y": {
              "field": "m", "type": "quantitative",
              "scale": {"domain": [0, 1], "range": [974, 558.5], "nice": false, "zero": false},
              "axis": {"orient": "left", "offset": -283.5, "values": [0, 0.5, 1], "format": "~g", "title": null, "tickSize": -8, "labelPadding": 33, "zindex": 1}
            }
          }
        },
        {
          "data": {"name": "insetB"},
          "mark": {"type": "line", "color": "#0072BD", "strokeWidth": 3},
          "encoding": {
            "x": {"field": "f", "type": "quantitative", "axis": {"orient": "top", "offset": -558.5, "values": [-2450, -2400, -2350], "labels": false, "title": null, "tickSize": -8, "zindex": 1}},
            "y": {"field": "m", "type": "quantitative", "axis": {"orient": "right", "offset": -826.5, "values": [0, 0.5, 1], "labels": false, "title": null, "tickSize": -8, "zindex": 1}}
          }
        },
        {
          "data": {"values": [{"f": -2500, "m": 0}, {"f": -2300, "m": 0}]},
          "mark": {"type": "line", "color": "#D95319", "strokeWidth": 3},
          "encoding": {
            "x": {"field": "f", "type": "quantitative", "axis": null},
            "y": {"field": "m", "type": "quantitative", "axis": null}
          }
        }
      ],
      "resolve": {"axis": {"x": "independent", "y": "independent"}}
    }
  ],
  "resolve": {"scale": {"x": "independent", "y": "independent"}},
  "config": {
    "font": "Liberation Serif",
    "view": {"stroke": null},
    "axis": {
      "grid": false,
      "domainColor": "#262626", "domainWidth": 2.5,
      "tickColor": "#262626", "tickWidth": 2.5,
      "labelColor": "#262626", "labelFont": "Liberation Serif", "labelFontSize": 57,
      "labelFlush": false, "labelOverlap": false,
      "titleColor": "#262626", "titleFont": "Liberation Serif", "titleFontSize": 69, "titleFontWeight": "normal"
    },
    "legend": {
      "symbolType": "M-3,0H3", "symbolSize": 2400, "symbolStrokeWidth": 3.5, "symbolOffset": 31,
      "labelFont": "Liberation Serif", "labelFontSize": 53, "labelFontStyle": "italic", "labelColor": "#000000", "labelLimit": 1000,
      "labelOffset": 70, "columnPadding": 24, "padding": 28,
      "fillColor": "#ffffff", "strokeColor": "#262626", "strokeWidth": 2.5
    }
  }
}
